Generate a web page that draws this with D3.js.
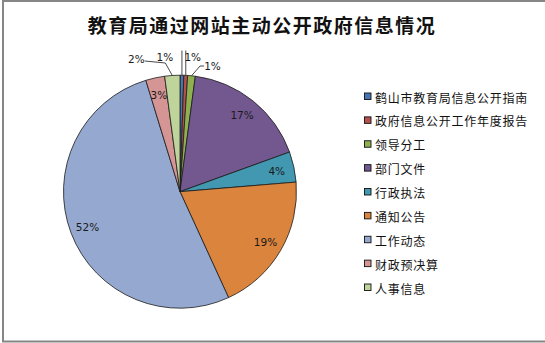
<!DOCTYPE html>
<html>
<head>
<meta charset="utf-8">
<script src="https://cdn.jsdelivr.net/npm/d3@7"></script>
<style>
  html, body { margin: 0; padding: 0; background: #fff; }
  svg { display: block; }
</style>
</head>
<body>
<svg id="chart" width="545" height="343"></svg>
<script>
// Items published through the website, by category
const categories = [
  "鹤山市教育局信息公开指南",
  "政府信息公开工作年度报告",
  "领导分工",
  "部门文件",
  "行政执法",
  "通知公告",
  "工作动态",
  "财政预决算",
  "人事信息"
];
const counts = [1, 1, 2, 33, 8, 37, 99, 5, 4];
const colors = ["#4675B0", "#B5504D", "#8EB050", "#72588F", "#4298B0", "#DB843D", "#95A9D0", "#D49594", "#BFD49A"];
const titleText = "教育局通过网站主动公开政府信息情况";

const svg = d3.select("#chart");
const W = 545, H = 343;

// outer frame (left, top, bottom edges visible)
svg.append("path")
  .attr("d", `M${W},1 H3 V${H - 1.5} H${W}`)
  .attr("fill", "none")
  .attr("stroke", "#868686")
  .attr("stroke-width", 2);

svg.append("text")
  .attr("x", 262).attr("y", 33)
  .attr("text-anchor", "middle")
  .attr("font-family", "'Noto Sans CJK SC', sans-serif")
  .attr("font-weight", "bold")
  .attr("font-size", 19)
  .attr("letter-spacing", 1.5)
  .attr("fill", "#111")
  .text(titleText);

const cx = 180, cy = 191.7, R = 116.5;
const total = d3.sum(counts);
const pct = v => Math.round(v / total * 100);

const pie = d3.pie().sort(null).value(d => d)(counts);
const arc = d3.arc().innerRadius(0).outerRadius(R);

const g = svg.append("g").attr("transform", `translate(${cx},${cy})`);

g.selectAll("path.slice")
  .data(pie)
  .join("path")
  .attr("class", "slice")
  .attr("d", arc)
  .attr("fill", (d, i) => colors[i])
  .attr("stroke", "#1a1a1a")
  .attr("stroke-width", 0.8)
  .attr("stroke-linejoin", "round");

const labelFont = "'DejaVu Sans', Verdana, sans-serif";
const labelArc = d3.arc().innerRadius(99).outerRadius(99);

// larger slices: label inside
pie.forEach((d, i) => {
  if (d.value / total < 0.025) return;
  const [x, y] = labelArc.centroid(d);
  g.append("text")
    .attr("x", x).attr("y", y)
    .attr("text-anchor", "middle")
    .attr("dominant-baseline", "central")
    .attr("font-family", labelFont)
    .attr("font-size", 10.5)
    .attr("fill", "#1a1a1a")
    .text(pct(d.value) + "%");
});

// small slices: label outside with leader lines
const outsideShift = {
  0: { lx: -17, ly: 56.5 },
  1: { lx: 7, ly: 56.5 },
  2: { lx: 21, ly: 66 },
  8: { lx: -36, ly: 59 }
};
pie.forEach((d, i) => {
  const s = outsideShift[i];
  if (!s) return;
  const a = (d.startAngle + d.endAngle) / 2;
  const px = Math.sin(a) * R, py = -Math.cos(a) * R;
  const tx = px + s.lx, ty = s.ly - cy;
  const halfW = 7.5;
  const edgeX = s.lx < 0 ? tx + halfW + 1 : tx - halfW - 1;
  let pts;
  if (i === 0 || i === 1) {
    pts = [[px, ty - 6], [px, py]];
  } else if (i === 2) {
    pts = [[edgeX, ty], [edgeX - 4, ty], [px, py]];
  } else {
    pts = [[edgeX, ty + 2], [px - 7, ty + 4], [px, py]];
  }
  g.append("polyline")
    .attr("points", pts.map(p => p.join(",")).join(" "))
    .attr("fill", "none")
    .attr("stroke", "#1a1a1a")
    .attr("stroke-width", 0.8);
  g.append("text")
    .attr("x", tx).attr("y", ty)
    .attr("text-anchor", "middle")
    .attr("dominant-baseline", "central")
    .attr("font-family", labelFont)
    .attr("font-size", 10.5)
    .attr("fill", "#1a1a1a")
    .text(pct(d.value) + "%");
});

// legend
const legend = svg.append("g");
const rowY = d3.scalePoint().domain(d3.range(categories.length)).range([97, 288]);
categories.forEach((c, i) => {
  const y = rowY(i);
  legend.append("rect")
    .attr("x", 364.5).attr("y", y - 4)
    .attr("width", 6.5).attr("height", 6.5)
    .attr("fill", colors[i])
    .attr("stroke", "#111")
    .attr("stroke-width", 0.9);
  legend.append("text")
    .attr("x", 375).attr("y", y)
    .attr("dominant-baseline", "central")
    .attr("font-family", "'Noto Sans CJK SC', sans-serif")
    .attr("font-size", 12)
    .attr("letter-spacing", 0.75)
    .attr("fill", "#111")
    .text(c);
});
</script>
</body>
</html>
